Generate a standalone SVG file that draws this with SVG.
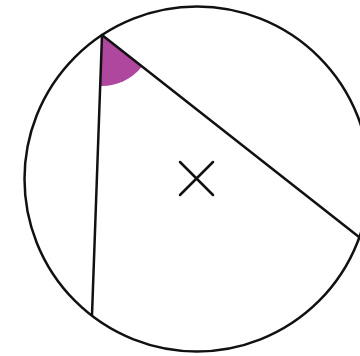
<svg xmlns="http://www.w3.org/2000/svg" width="360" height="356" viewBox="0 0 360 356">
<style>
.ln{fill:none;stroke:#111;stroke-width:2.5;stroke-linecap:round;stroke-linejoin:round}
</style>
<rect width="360" height="356" fill="#fff"/>
<path id="angle" d="M102,35 L142,66.6 A51,51 0 0 1 100.2,86 Z" fill="#b0479e"/>
<circle id="circle" cx="197" cy="179" r="172.5" class="ln"/>
<g id="chords">
<line x1="102" y1="35" x2="92" y2="315" class="ln"/>
<line x1="102" y1="35" x2="359" y2="237" class="ln"/>
</g>
<g id="centre" class="ln">
<line x1="180" y1="162" x2="213" y2="195"/>
<line x1="213" y1="162" x2="180" y2="195"/>
</g>
</svg>
